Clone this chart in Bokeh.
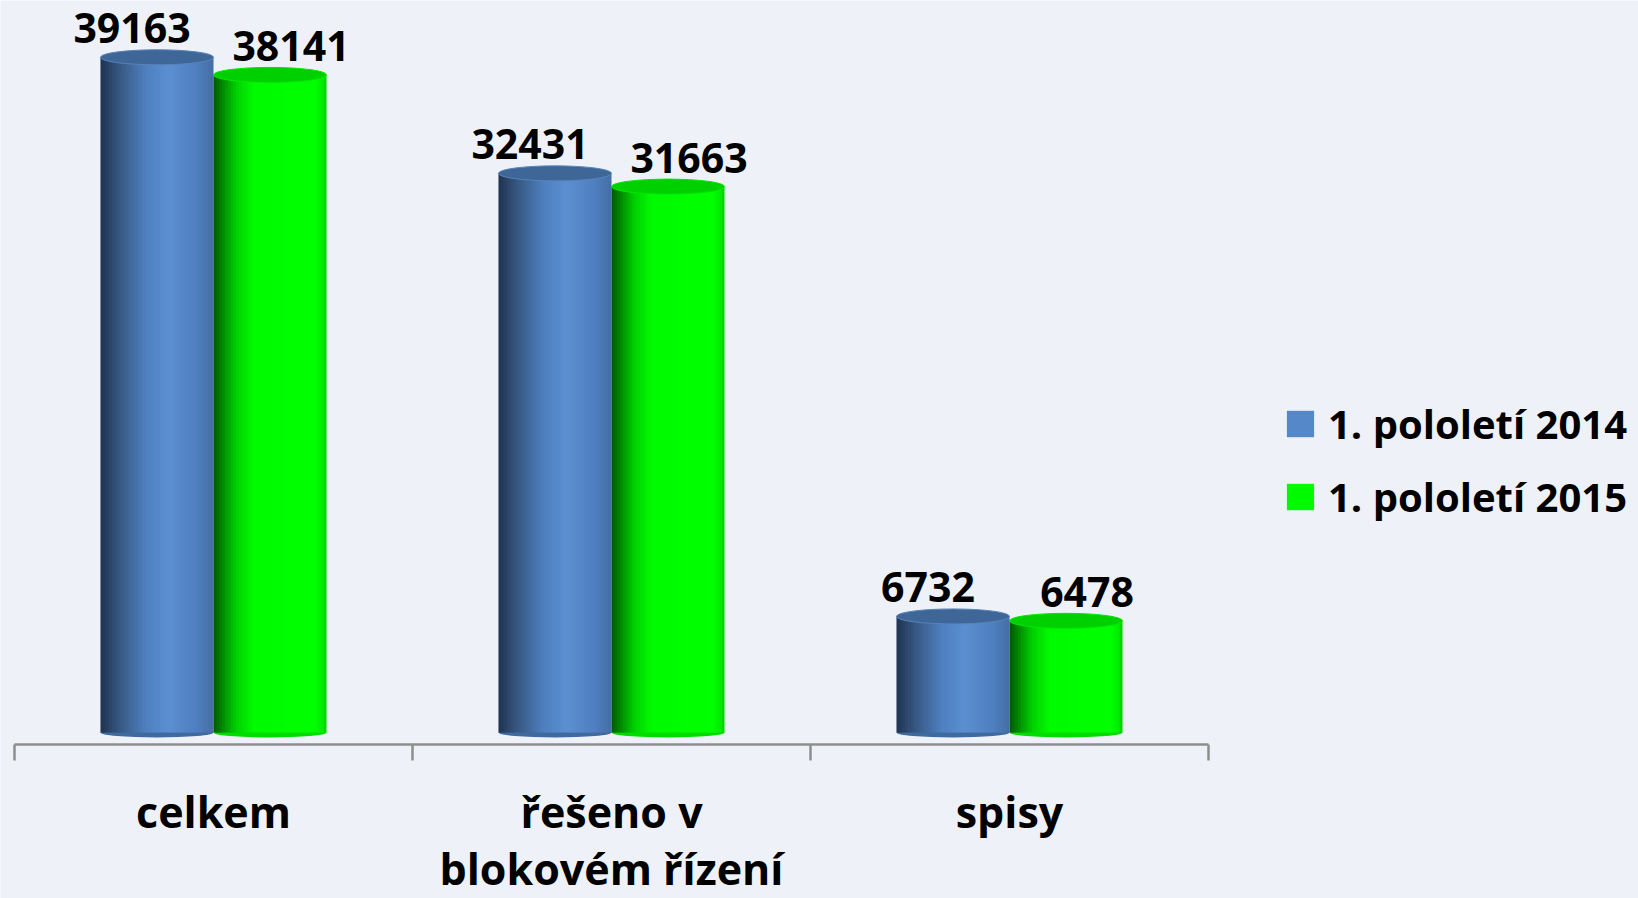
from bokeh.plotting import figure
from bokeh.models import (Range1d, LinearAxis, FixedTicker, Legend, LegendItem, ColumnDataSource)
from bokeh.core.properties import value
from bokeh.embed import file_html
from bokeh.resources import INLINE

# ---- data ----
categories = ["celkem", "řešeno v\nblokovém řízení", "spisy"]
series_names = ["1. pololetí 2014", "1. pololetí 2015"]
values_2014 = [39163, 32431, 6732]
values_2015 = [38141, 31663, 6478]

# ---- styling constants ----
W, H = 1638, 898
FONT = "Open Sans"
BG = "#eef2f8"
units_per_px = 58.0
base_px = 732            # screen y (from top) of value 0
axis_px = 744            # screen y of the category axis line
x_left_px = 14           # screen x of category boundary 0
px_per_cat = 398.0

bar_w = 0.284
n_strips = 40
blue_stops = [(0.0, "#1f3350"), (0.15, "#35557e"), (0.4, "#4e7fbf"), (0.6, "#5b8fd1"),
              (0.85, "#4f7fc0"), (1.0, "#456ea4")]
green_stops = [(0.0, "#005800"), (0.08, "#008800"), (0.2, "#00d000"), (0.35, "#00fa00"),
               (0.9, "#00ff00"), (0.97, "#00ea00"), (1.0, "#00cc00")]
top_colors = ["#3e6696", "#00cf00"]
top_lines = ["#5883b9", "#00e800"]
bottom_colors = ["#3f6aa0", "#00dc00"]


def hex2rgb(h):
    h = h.lstrip("#")
    return tuple(int(h[i:i + 2], 16) for i in (0, 2, 4))


def grad(stops, t):
    for (t0, c0), (t1, c1) in zip(stops[:-1], stops[1:]):
        if t0 <= t <= t1:
            f = (t - t0) / (t1 - t0) if t1 > t0 else 0
            a, b = hex2rgb(c0), hex2rgb(c1)
            return "#%02x%02x%02x" % tuple(int(round(a[i] + (b[i] - a[i]) * f)) for i in range(3))
    return stops[-1][1]


x_start = -x_left_px / px_per_cat
x_end = x_start + W / px_per_cat
y_end = base_px * units_per_px
y_start = -(H - base_px) * units_per_px

p = figure(width=W, height=H, x_range=Range1d(x_start, x_end), y_range=Range1d(y_start, y_end),
           output_backend="svg", toolbar_location=None, x_axis_type=None, y_axis_type=None,
           min_border=0, min_border_left=0, min_border_right=0, min_border_top=0, min_border_bottom=0)
p.background_fill_color = BG
p.border_fill_color = BG
p.outline_line_color = None
p.grid.visible = False

# category axis (fixed at the floor line)
ax = LinearAxis(fixed_location=-(axis_px - base_px) * units_per_px,
                bounds=(0, len(categories)))
ax.ticker = FixedTicker(ticks=[i + 0.5 for i in range(len(categories))],
                        minor_ticks=list(range(len(categories) + 1)))
ax.major_label_overrides = {i + 0.5: c for i, c in enumerate(categories)}
ax.axis_line_color = "#8e8e8e"
ax.axis_line_width = 2.5
ax.major_tick_line_color = None
ax.major_tick_out = 0
ax.major_tick_in = 0
ax.minor_tick_line_color = "#8e8e8e"
ax.minor_tick_line_width = 2.5
ax.minor_tick_out = 16
ax.minor_tick_in = 0
ax.major_label_standoff = 21
ax.major_label_text_font = FONT
ax.major_label_text_font_style = "bold"
ax.major_label_text_font_size = "43px"
ax.major_label_text_color = "#000000"
ax.major_label_text_line_height = 0.97
p.add_layout(ax, "below")

series = [values_2014, values_2015]
stops_list = [blue_stops, green_stops]
label_offsets = [-25, 21]
strip_renderers = []
dw = bar_w / n_strips
for s, vals in enumerate(series):
    centers = [i + 0.5 + (s - 0.5) * bar_w for i in range(len(vals))]
    # bottom cap
    p.ellipse(x=centers, y=[0] * len(vals), width=bar_w, height=10, height_units="screen",
              fill_color=bottom_colors[s], line_color=None)
    # body as gradient strips
    left, right, top, bottom, colors = [], [], [], [], []
    for c, v in zip(centers, vals):
        for k in range(n_strips):
            t = (k + 0.5) / n_strips
            left.append(c - bar_w / 2 + k * dw)
            right.append(c - bar_w / 2 + (k + 1) * dw + (0.003 if k < n_strips - 1 else 0))
            top.append(v)
            bottom.append(0)
            colors.append(grad(stops_list[s], t))
    src = ColumnDataSource(dict(left=left, right=right, top=top, bottom=bottom, color=colors))
    r = p.quad(left="left", right="right", top="top", bottom="bottom", fill_color="color",
               line_color=None, source=src)
    strip_renderers.append(r)
    # top cap
    p.ellipse(x=centers, y=vals, width=bar_w, height=15, height_units="screen",
              fill_color=top_colors[s], line_color=top_lines[s], line_width=1)
    # value labels
    p.text(x=centers, y=vals, text=[str(v) for v in vals], x_offset=label_offsets[s], y_offset=-29,
           text_align="center", text_baseline="middle", text_font=value(FONT),
           text_font_style="bold", text_font_size="41px", text_color="#000000")

legend = Legend(items=[LegendItem(label=series_names[0], renderers=[strip_renderers[0]], index=n_strips // 2),
                       LegendItem(label=series_names[1], renderers=[strip_renderers[1]], index=n_strips + n_strips // 2)],
                location=(1283, 374))
legend.label_text_font = FONT
legend.label_text_font_style = "bold"
legend.label_text_font_size = "40px"
legend.label_text_color = "#000000"
legend.glyph_width = 34
legend.glyph_height = 33
legend.label_standoff = 11
legend.label_height = 50
legend.spacing = 18
legend.padding = 0
legend.margin = 0
legend.border_line_color = None
legend.background_fill_alpha = 0
p.add_layout(legend)

open("out.html", "w").write(file_html(p, INLINE))
